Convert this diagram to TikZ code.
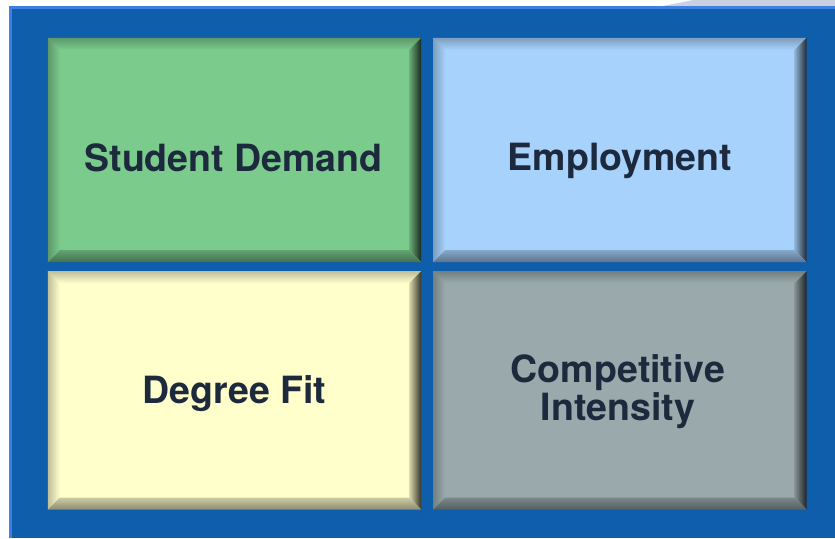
\documentclass[tikz,border=0pt]{standalone}
\usepackage{fontspec}
\setmainfont{TeX Gyre Heros}
\usetikzlibrary{positioning, calc}

\definecolor{slideblue}{HTML}{0F5EAC}
\definecolor{slideedge}{HTML}{3E7FE2}
\definecolor{swoosh}{HTML}{C7D1E1}
\definecolor{textnavy}{HTML}{1D2A3E}
\definecolor{sdgreen}{HTML}{7BCB8D}
\definecolor{empblue}{HTML}{A6D2FC}
\definecolor{fityellow}{HTML}{FFFFCC}
\definecolor{compgray}{HTML}{9AAAAC}

\begin{document}
\begin{tikzpicture}[x=1pt, y=-1pt,
        tile/.style={rectangle, minimum width=373pt, inner sep=0pt},
        tiletext/.style={text=textnavy, align=center, font=\fontsize{37.5}{38}\selectfont\bfseries}]
        \useasboundingbox (0,0) rectangle (835,538);

        % Slide background
        \fill[swoosh] (663,6) -- (693,0) -- (835,0) -- (835,6) -- cycle;
        \fill[slideblue] (9,6) rectangle (835,538);
        \draw[slideedge, line width=3pt] (10.5,538) -- (10.5,7.5) -- (835,7.5);

        % Tiles
        \node[tile, minimum height=224pt, fill=sdgreen] (sd) at (234.5,150) {};
        \node[tile, minimum height=224pt, fill=empblue, right=12pt of sd] (emp) {};
        \node[tile, minimum height=238pt, fill=fityellow, below=9pt of sd] (fit) {};
        \node[tile, minimum height=238pt, fill=compgray, right=12pt of fit] (comp) {};

        % Bevel faces
        \foreach \t/\c in {sd/sdgreen, emp/empblue, fit/fityellow, comp/compgray} {
            \shade[top color=\c!75!black, middle color=\c!25!white, bottom color=\c]
                (\t.north west) -- (\t.north east) -- ([shift={(-12,12)}]\t.north east) -- ([shift={(12,12)}]\t.north west) -- cycle;
            \shade[left color=\c!75!black, right color=\c]
                (\t.north west) -- ([shift={(12,12)}]\t.north west) -- ([shift={(12,-12)}]\t.south west) -- (\t.south west) -- cycle;
            \shade[left color=\c!85!black, right color=\c!20!black]
                (\t.north east) -- ([shift={(-12,12)}]\t.north east) -- ([shift={(-12,-12)}]\t.south east) -- (\t.south east) -- cycle;
            \shade[top color=\c!80!black, bottom color=\c!55!black]
                (\t.south west) -- ([shift={(12,-12)}]\t.south west) -- ([shift={(-12,-12)}]\t.south east) -- (\t.south east) -- cycle;
        }

        % Tile labels
        \node[tiletext] (sdtext) at ([xshift=-1pt, yshift=-8pt]sd.center) {Student Demand};
        \node[tiletext] (emptext) at ([yshift=-11pt]emp.center) {Employment};
        \node[tiletext] (fittext) at ([yshift=-3pt]fit.center) {Degree Fit};
        \node[tiletext] (comptext) at ([xshift=-2pt, yshift=-1pt]comp.center) {Competitive\\Intensity};
\end{tikzpicture}
\end{document}
